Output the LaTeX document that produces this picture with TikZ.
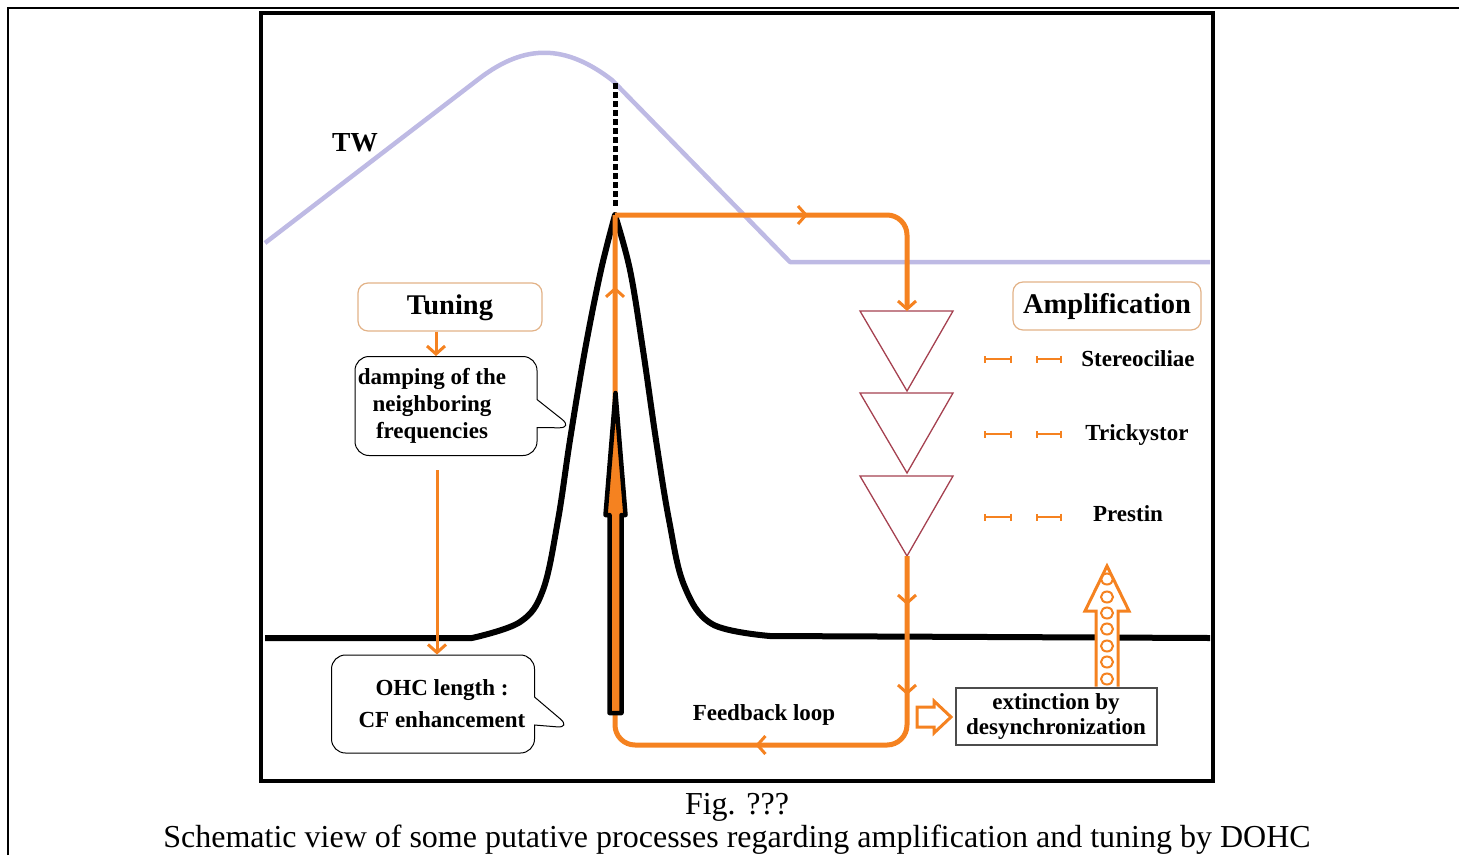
\documentclass[tikz,border=0pt]{standalone}
\usepackage{fontspec}
\setmainfont{Liberation Serif}
\usetikzlibrary{shapes.callouts,arrows.meta,decorations.markings}
\definecolor{fborange}{RGB}{245,130,32}
\definecolor{boxedge}{RGB}{226,178,135}
\definecolor{twblue}{RGB}{190,186,228}
\definecolor{trired}{RGB}{165,65,80}

\begin{document}
\begin{tikzpicture}[x=1pt,y=-1pt,>={Straight Barb[length=8pt,width=18pt,line width=3pt]},
  bold text/.style={font=\fontsize{23}{27}\selectfont\bfseries},
  title box/.style={draw=boxedge,line width=1.2pt,rounded corners=10pt,minimum height=48pt,text height=20pt,text depth=6pt,font=\fontsize{28.5}{32}\selectfont\bfseries},
  talk box/.style={rectangle callout,draw=black,line width=1pt,rounded corners=14pt,align=center,callout pointer width=28pt,bold text},
  fb line/.style={draw=fborange,line width=5pt},
  thin arrow/.style={draw=fborange,line width=3pt,->},
  tick line/.style={draw=fborange,line width=2.5pt,{Bar[width=7pt,line width=2pt]}-{Bar[width=7pt,line width=2pt]}},
  tri line/.style={draw=trired,line width=1.3pt},
  hollow arrow/.style={draw=fborange,line width=3pt,fill=white,line join=miter}]

    \useasboundingbox (0,0) rectangle (1459,855);

    % frames
    \draw[line width=2pt] (8,855) -- (8,8) -- (1459,8);
    \draw[line width=3.5pt] (261,13) rectangle (1213,781);

    % travelling wave
    \draw[twblue,line width=4.5pt,line join=round] (265,243) -- (480,78) .. controls (525,44) and (565,44) .. (612,80) -- (790,262) -- (1210,262);
    \node[font=\fontsize{27.5}{30}\selectfont\bfseries,anchor=base] (tw) at (355,151) {TW};

    \coordinate (peak) at (615,215);
    \coordinate (loopTR) at (907,215);
    \coordinate (loopBR) at (907,745);
    \coordinate (loopBL) at (615,745);

    % tuning curve
    \draw[line width=6pt,line join=round] (265,638)
      -- plot[smooth,tension=0.6] coordinates {(472,638) (520,622) (543,590) (558,520) (570,440) (585,350) (601,270) (peak)}
      -- plot[smooth,tension=0.6] coordinates {(peak) (630,270) (643,350) (656,440) (669,520) (684,585) (712,624) (770,636)}
      -- (1210,638);
    \draw[line width=5pt,dash pattern=on 6pt off 3pt] (615,83) -- ([yshift=7pt]peak);

    % triangles
    \foreach \i/\y in {1/311,2/393,3/476} {
      \draw[tri line] (860,\y) -- (953,\y) -- (907,\y+80) coordinate (apex\i) -- cycle;
      \coordinate (top\i) at (907,\y);
    }

    % feedback loop
    \draw[fb line,rounded corners=20pt,->,postaction={decorate},
      decoration={markings,mark=at position 193pt with {\arrow{>}}}]
      (peak) -- (loopTR) -- (top1);
    \draw[fb line,rounded corners=20pt,postaction={decorate},
      decoration={markings,
        mark=at position 49pt with {\arrow{>}},
        mark=at position 139pt with {\arrow{>}},
        mark=at position 332pt with {\arrow{>}},
        mark=at position 922pt with {\arrow{>}}}]
      (apex3) -- (loopBR) -- (loopBL) -- (peak);

    % stimulus arrow
    \draw[line width=4.5pt,fill=fborange,line join=round] (609.5,713) -- (609.5,515) -- (605.5,515) -- (615.5,393)
      -- (625.5,515) -- (621.5,515) -- (621.5,713) -- cycle;

    % boxes
    \node[title box,minimum width=184pt] (tuning) at (450,307) {Tuning};
    \node[title box,minimum width=188pt] (ampli) at (1107,306) {Amplification};
    \node[talk box,minimum width=182pt,minimum height=99pt,callout absolute pointer={(573,428)}] (damping) at (446,406)
      {\hspace*{-28pt}damping of the\\\hspace*{-28pt}neighboring\\\hspace*{-28pt}frequencies};
    \node[talk box,minimum width=203pt,minimum height=98pt,callout absolute pointer={(571,728)}] (ohc) at (433,704)
      {\hspace*{18pt}OHC length :\\[5pt]\hspace*{18pt}CF enhancement};
    \node[draw=black!70,line width=2pt,minimum width=201pt,minimum height=57pt,align=center,bold text,inner sep=2pt] (extinct) at (1056,716)
      {extinction by\\[-2pt]desynchronization};

    \draw[thin arrow] ([xshift=-14pt]tuning.south) -- ([xshift=-14pt]tuning.south |- damping.north);
    \draw[thin arrow] ([xshift=-9pt,yshift=-14pt]damping.south) -- ([xshift=-9pt]damping.south |- ohc.north);

    % components
    \foreach \y in {359,434,517} {
      \draw[tick line] (984,\y) -- (1012,\y);
      \draw[tick line] (1036,\y) -- (1062,\y);
    }
    \node[bold text,anchor=base] (stereo) at (1138,366) {Stereociliae};
    \node[bold text,anchor=base] (tricky) at (1137,440) {Trickystor};
    \node[bold text,anchor=base] (prestin) at (1128,521) {Prestin};
    \node[bold text,anchor=base] (fbtext) at (764,720) {Feedback loop};

    % hollow arrows
    \coordinate (shaftL) at (1096,0);
    \coordinate (shaftR) at (1118,0);
    \draw[hollow arrow] (917,707) -- (934,707) -- (934,701) -- (951,717) -- (934,733) -- (934,727) -- (917,727) -- cycle;
    \draw[hollow arrow] (extinct.north -| shaftL) -- (1096,611) -- (1085,611) -- (1107,566) -- (1129,611) -- (1118,611) -- (extinct.north -| shaftR);
    \foreach \y in {579,597,613,629,646,662,679}
      \draw[fborange,line width=2pt] (1107,\y) ellipse [x radius=6pt,y radius=5.5pt];

    % caption
    \node[font=\fontsize{32}{36}\selectfont,anchor=base] (figno) at (737,814) {Fig. ???};
    \node[font=\fontsize{32}{36}\selectfont,anchor=base] (caption) at (737,847)
      {Schematic view of some putative processes regarding amplification and tuning by DOHC};
\end{tikzpicture}
\end{document}
